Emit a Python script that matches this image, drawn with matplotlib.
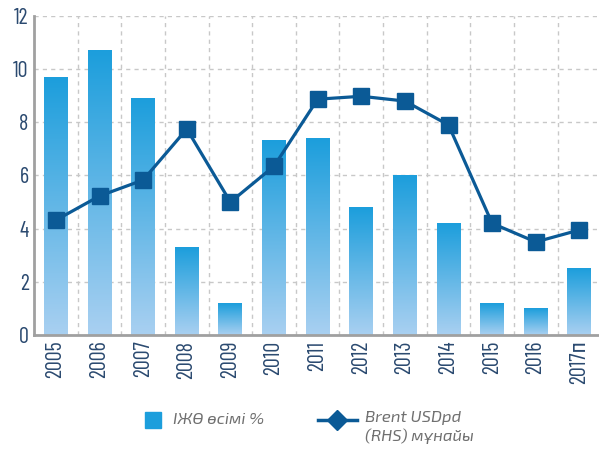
import numpy as np
import matplotlib.pyplot as plt
from matplotlib.colors import LinearSegmentedColormap
from matplotlib.lines import Line2D
from matplotlib.patches import Rectangle

years = ["2005", "2006", "2007", "2008", "2009", "2010", "2011",
         "2012", "2013", "2014", "2015", "2016", "2017п"]
gdp_growth = [9.7, 10.7, 8.9, 3.3, 1.2, 7.3, 7.4, 4.8, 6.0, 4.2, 1.2, 1.0, 2.5]
brent = [4.32, 5.23, 5.83, 7.75, 5.0, 6.35, 8.87, 8.98, 8.8, 7.9, 4.2, 3.5, 3.95]
gdp_label = "ІЖӨ өсімі %"
brent_label = "Brent USDpd\n(RHS) мұнайы"

NAVY = "#2b4a70"
LINE_C = "#0b5a96"
BAR_TOP = "#1c9edc"
BAR_BOT = "#a9d0f1"
narrow = ["Barlow Condensed", "Roboto Condensed", "DejaVu Sans"]
legend_font = ["Exo 2", "Open Sans", "DejaVu Sans"]

fig = plt.figure(figsize=(5.99, 4.57), dpi=100)
ax = fig.add_axes([0.057, 0.267, 0.943, 0.698])

x = np.arange(len(years))
cmap = LinearSegmentedColormap.from_list("bar", [BAR_BOT, BAR_TOP])
bars = ax.bar(x, gdp_growth, width=0.55, facecolor="none", edgecolor="none", zorder=3)
grad = np.linspace(0, 1, 256).reshape(-1, 1)
for b in bars:
    x0, w, h = b.get_x(), b.get_width(), b.get_height()
    ax.imshow(grad, extent=[x0, x0 + w, 0, h], origin="lower",
              aspect="auto", cmap=cmap, zorder=2)

ax.plot(x, brent, color=LINE_C, linewidth=2.3, marker="s",
        markersize=11.5, zorder=4)

ax.set_xlim(-0.5, 12.45)
ax.set_ylim(0, 12)
ax.set_yticks(range(0, 13, 2))
ax.set_xticks(x)
ax.set_xticklabels(years, rotation=90, fontsize=16, color=NAVY, family=narrow)
for lbl in ax.get_yticklabels():
    lbl.set_fontsize(16)
    lbl.set_color(NAVY)
    lbl.set_family(narrow)
ax.tick_params(length=0, pad=4)

ax.set_xticks(x[:-1] + 0.5, minor=True)
ax.tick_params(which="minor", length=0)
ax.grid(axis="y", which="major", color="#c8c8c8", linestyle=(0, (3, 3)), linewidth=1, zorder=0)
ax.grid(axis="x", which="minor", color="#c8c8c8", linestyle=(0, (3, 3)), linewidth=1, zorder=0)
ax.grid(axis="x", which="major", visible=False)
ax.set_axisbelow(True)

for s in ["top", "right"]:
    ax.spines[s].set_visible(False)
for s in ["left", "bottom"]:
    ax.spines[s].set_color("#a0a0a0")
    ax.spines[s].set_linewidth(2)

# legend drawn by hand
fig.add_artist(Rectangle((145 / 599, 1 - 428 / 457), 16 / 599, 16 / 457,
                         transform=fig.transFigure, color=BAR_TOP))
fig.text(173 / 599, 1 - 420 / 457, gdp_label, fontsize=12, style="italic",
         color="#707070", family=legend_font, va="center")
fig.add_artist(Line2D([318 / 599, 357 / 599], [1 - 420 / 457] * 2,
                      transform=fig.transFigure, color=LINE_C, linewidth=2.5))
fig.add_artist(Line2D([337 / 599], [1 - 420 / 457], transform=fig.transFigure,
                      color=LINE_C, marker="D", markersize=10.5, linestyle="none"))
fig.text(365 / 599, 1 - 411 / 457, brent_label, fontsize=12, style="italic",
         color="#707070", family=legend_font, va="top", linespacing=1.3)

fig.savefig("out.png", dpi=100)
